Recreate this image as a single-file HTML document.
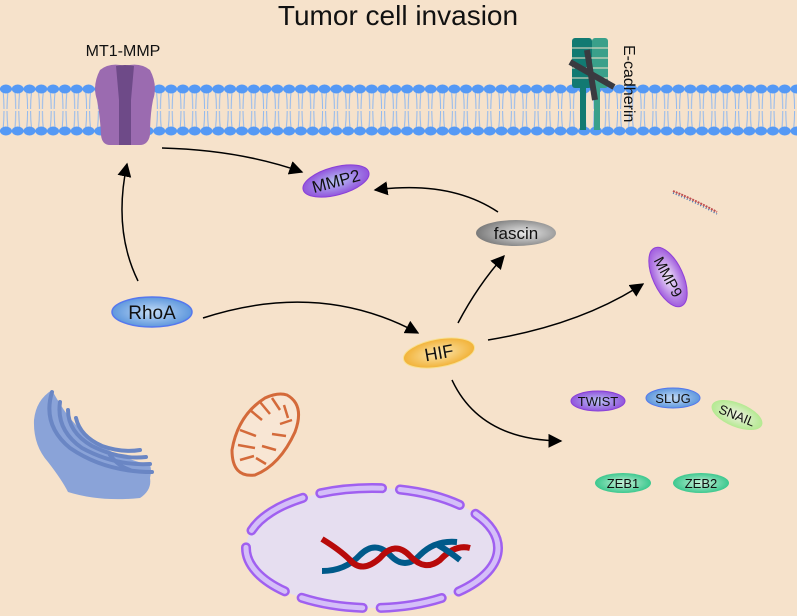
<!DOCTYPE html>
<html><head><meta charset="utf-8"><style>
html,body{margin:0;padding:0;background:#f6e2cb;}
svg{display:block;font-family:"Liberation Sans",sans-serif;}
</style></head><body>
<svg width="797" height="616" viewBox="0 0 797 616" xmlns="http://www.w3.org/2000/svg">
<defs>
<pattern id="mem" x="0" y="80" width="11.8" height="60" patternUnits="userSpaceOnUse">
<path d="M3 10 Q4 20 4 29 M8 10 Q7 20 7 29 M3 50 Q4 40 4 31 M8 50 Q7 40 7 31" stroke="#8fb8f0" stroke-width="1" fill="none"/>
<ellipse cx="5.9" cy="9" rx="6" ry="4.5" fill="#5599f5"/>
<ellipse cx="5.9" cy="51" rx="6" ry="4.5" fill="#5599f5"/>
</pattern>
<marker id="ar" viewBox="0 0 10 10" refX="9" refY="5" markerWidth="14" markerHeight="14" markerUnits="userSpaceOnUse" orient="auto"><path d="M0 0L10 5L0 10z" fill="#000"/></marker>
<radialGradient id="gPur" cx="50%" cy="50%" r="60%"><stop offset="0" stop-color="#b8c4f4"/><stop offset="1" stop-color="#8a3fd8"/></radialGradient>
<radialGradient id="gBlue" cx="50%" cy="50%" r="60%"><stop offset="0" stop-color="#c4dcf6"/><stop offset="1" stop-color="#4a8ad8"/></radialGradient>
<radialGradient id="gGray" cx="60%" cy="50%" r="60%"><stop offset="0" stop-color="#e8e8e8"/><stop offset="1" stop-color="#7a7a7a"/></radialGradient>
<radialGradient id="gOr" cx="50%" cy="50%" r="60%"><stop offset="0" stop-color="#fbe6b0"/><stop offset="1" stop-color="#f0a820"/></radialGradient>
<radialGradient id="gGrn" cx="50%" cy="50%" r="60%"><stop offset="0" stop-color="#c8f0d8"/><stop offset="1" stop-color="#20c080"/></radialGradient>
<radialGradient id="gLG" cx="50%" cy="50%" r="60%"><stop offset="0" stop-color="#f0f0e4"/><stop offset="1" stop-color="#a8e880"/></radialGradient>
<radialGradient id="gMMP9" cx="50%" cy="50%" r="60%"><stop offset="0" stop-color="#f4ecfa"/><stop offset="1" stop-color="#9040d8"/></radialGradient>
</defs>
<rect width="797" height="616" fill="#f6e2cb"/>
<text x="398" y="25" font-size="28" text-anchor="middle" fill="#111">Tumor cell invasion</text>

<rect x="0" y="80" width="797" height="60" fill="url(#mem)"/>

<!-- MT1-MMP -->
<text x="123" y="56" font-size="16" text-anchor="middle" fill="#111">MT1-MMP</text>
<path d="M100 70 Q110 62 125 66 Q140 62 150 70 Q158 85 153 100 Q150 115 150 135 Q148 145 140 145 L110 145 Q102 145 101 135 Q100 115 97 100 Q92 85 100 70z" fill="#9b6bb0"/>
<path d="M116 66 Q125 64 134 66 L131 100 L131 145 L119 145 L119 100z" fill="#6e4a88"/>

<!-- E-cadherin -->
<rect x="572" y="38" width="20" height="50" rx="3" fill="#127a72"/>
<rect x="592" y="38" width="16" height="50" rx="3" fill="#3aa08a"/>
<g stroke="#f6e2cb" stroke-width="1"><line x1="572" y1="48" x2="608" y2="48"/><line x1="572" y1="58" x2="608" y2="58"/><line x1="572" y1="68" x2="608" y2="68"/><line x1="572" y1="78" x2="608" y2="78"/></g>
<rect x="580" y="88" width="6" height="42" fill="#127a72"/>
<rect x="594" y="88" width="6" height="42" fill="#3aa08a"/>
<line x1="587" y1="50" x2="595" y2="100" stroke="#3a3a40" stroke-width="6"/>
<line x1="570" y1="62" x2="614" y2="87" stroke="#3a3a40" stroke-width="6"/>
<text x="0" y="0" font-size="16" fill="#111" transform="translate(624,45) rotate(90)">E-cadherin</text>

<!-- small DNA strand -->
<path d="M673 191 Q695 200 717 212" stroke="#c05050" stroke-width="2" fill="none" stroke-dasharray="2 1"/>
<path d="M673 193 Q695 202 717 214" stroke="#4070b0" stroke-width="1.5" fill="none" stroke-dasharray="1 2"/>

<!-- arrows -->
<g stroke="#000" stroke-width="1.5" fill="none" marker-end="url(#ar)">
<path d="M162 148 Q240 150 302 172"/>
<path d="M138 281 Q113 230 127 164"/>
<path d="M203 318 Q320 280 418 333"/>
<path d="M458 323 Q478 285 504 256"/>
<path d="M498 212 Q450 180 375 190"/>
<path d="M488 340 Q580 325 643 284"/>
<path d="M452 380 Q480 440 561 441"/>
</g>

<!-- nodes -->
<ellipse cx="336" cy="181" rx="34" ry="14" fill="url(#gPur)" stroke="#8a3fd8" transform="rotate(-15 336 181)"/>
<text x="336" y="187" font-size="17" text-anchor="middle" fill="#111" transform="rotate(-15 336 181)">MMP2</text>
<ellipse cx="516" cy="233" rx="40" ry="13" fill="url(#gGray)"/>
<text x="516" y="239" font-size="17" text-anchor="middle" fill="#111">fascin</text>
<ellipse cx="152" cy="312" rx="40" ry="15" fill="url(#gBlue)" stroke="#5577ee" stroke-width="1.5"/>
<text x="152" y="319" font-size="19" text-anchor="middle" fill="#111">RhoA</text>
<ellipse cx="439" cy="353" rx="36" ry="14" fill="url(#gOr)" stroke="#f8e090" transform="rotate(-10 439 353)"/>
<text x="439" y="359" font-size="18" text-anchor="middle" fill="#111" transform="rotate(-10 439 353)">HIF</text>
<ellipse cx="668" cy="277" rx="32" ry="15" fill="url(#gMMP9)" stroke="#9040d8" transform="rotate(65 668 277)"/>
<text x="668" y="282" font-size="15" text-anchor="middle" fill="#111" transform="rotate(62 668 277)">MMP9</text>
<ellipse cx="598" cy="401" rx="27" ry="10" fill="url(#gPur)" stroke="#8a3fd8"/>
<text x="598" y="406" font-size="13" text-anchor="middle" fill="#111">TWIST</text>
<ellipse cx="673" cy="398" rx="27" ry="10" fill="url(#gBlue)" stroke="#5577ee"/>
<text x="673" y="403" font-size="13" text-anchor="middle" fill="#111">SLUG</text>
<ellipse cx="737" cy="415" rx="27" ry="12" fill="url(#gLG)" transform="rotate(22 737 415)"/>
<text x="737" y="420" font-size="13" text-anchor="middle" fill="#111" transform="rotate(22 737 415)">SNAIL</text>
<ellipse cx="623" cy="483" rx="28" ry="10" fill="url(#gGrn)"/>
<text x="623" y="488" font-size="13" text-anchor="middle" fill="#111">ZEB1</text>
<ellipse cx="701" cy="483" rx="28" ry="10" fill="url(#gGrn)"/>
<text x="701" y="488" font-size="13" text-anchor="middle" fill="#111">ZEB2</text>

<!-- Golgi -->
<path d="M52 390 Q36 400 34 420 Q33 445 48 462 Q62 480 68 492 Q100 502 140 498 Q152 490 150 478 Q152 470 150 465 Q120 458 98 444 Q76 428 64 410 Q56 398 52 390z" fill="#8aa3d8"/>
<g stroke="#6a86c4" stroke-width="4" fill="none" stroke-linecap="round">
<path d="M52 392 Q42 425 70 448 Q105 472 152 472"/>
<path d="M60 402 Q56 430 82 448 Q115 466 150 464"/>
<path d="M68 410 Q68 432 92 446 Q120 460 146 457"/>
<path d="M76 418 Q80 436 102 446 Q122 453 140 450"/>
<path d="M110 455 Q118 466 130 470"/>
</g>
<!-- Mitochondrion -->
<path d="M287 395 Q305 405 295 432 Q280 465 255 475 Q232 478 232 450 Q238 415 265 398 Q278 392 287 395z" fill="#f8e6d4" stroke="#d46a3a" stroke-width="3"/>
<g stroke="#d46a3a" stroke-width="2.5" fill="none">
<path d="M240 430 L256 436 M238 445 L255 448 M240 460 L254 456 M250 410 L262 420 M260 402 L270 414 M272 398 L280 410 M284 405 L288 418 M292 420 L280 424 M286 436 L272 434 M276 450 L262 446 M266 464 L256 458"/>
</g>

<!-- Nucleus -->
<ellipse cx="372" cy="548" rx="126" ry="60" fill="#e6def0"/>
<ellipse cx="372" cy="548" rx="126" ry="60" fill="none" stroke="#a060f0" stroke-width="10" stroke-dasharray="62 18" stroke-linecap="round"/>
<ellipse cx="372" cy="548" rx="126" ry="60" fill="none" stroke="#d4bff8" stroke-width="5" stroke-dasharray="62 18" stroke-linecap="round"/>
<path d="M322 571 Q345 571 360 555 Q375 540 390 555 Q405 571 420 555 Q435 540 457 542" stroke="#005a8a" stroke-width="6" fill="none"/>
<path d="M322 539 Q340 550 350 560 Q362 574 380 558 Q395 540 410 556 Q425 572 440 560 Q455 544 470 548" stroke="#b80a0a" stroke-width="6" fill="none"/>
<path d="M438 545 Q450 552 460 560" stroke="#005a8a" stroke-width="6" fill="none"/>
</svg>
</body></html>
